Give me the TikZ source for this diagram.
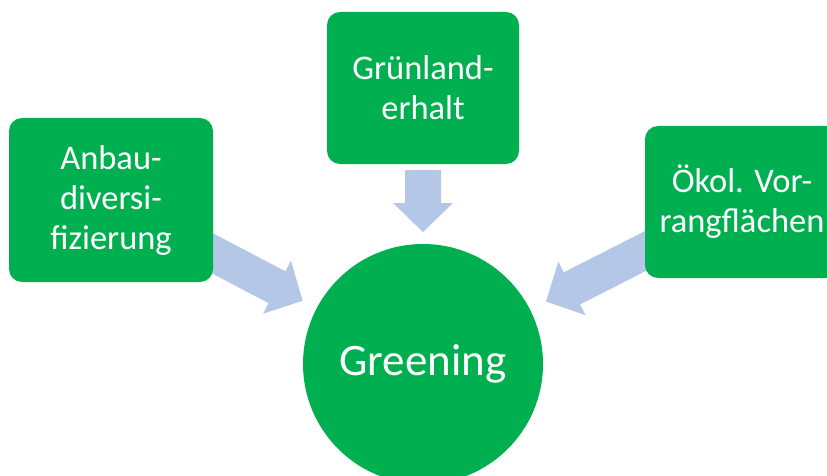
\documentclass[tikz,border=0pt]{standalone}
\usepackage{fontspec}
\setmainfont{Carlito}
\usetikzlibrary{calc}
\definecolor{boxgreen}{HTML}{00B050}
\definecolor{arrowblue}{HTML}{B4C7E7}
\tikzset{
  greenbox/.style={fill=boxgreen, draw=none, rounded corners=13pt, text=white,
    align=center, inner sep=0pt, font=\fontsize{34.5}{40}\selectfont},
  greencircle/.style={circle, fill=boxgreen, draw=none, text=white, inner sep=0pt,
    minimum size=240pt, font=\fontsize{45}{50}\selectfont},
  arrowfill/.style={fill=arrowblue, draw=none}
}
\newcommand{\myarrow}[2]{%
  \coordinate (H) at ($(#2)!29pt!(#1)$);
  \fill[arrowfill]
    ($(#1)!18pt!90:(#2)$) -- ($(H)!18pt!90:(#2)$)
    -- ($(H)!30pt!90:(#2)$) -- (#2) -- ($(H)!30pt!-90:(#2)$)
    -- ($(H)!18pt!-90:(#2)$) -- ($(#1)!18pt!-90:(#2)$) -- cycle;}
\begin{document}
\begin{tikzpicture}[x=1pt,y=-1pt]
\useasboundingbox (0,0) rectangle (827,476);
\clip (0,0) rectangle (827,476);
% geometry
\coordinate (Lc) at (111,200);
\coordinate (Tc) at (423,88);
\coordinate (Rc) at (742,202);
\coordinate (Gc) at (423,364);
% arrows (behind)
\coordinate (Ltip) at ($(Gc)!136pt!(Lc)$);
\coordinate (Rtip) at ($(Gc)!138pt!(Rc)$);
\coordinate (Ttip) at ($(Gc)!132pt!(Tc)$);
\coordinate (Tstart) at (423,170);
\myarrow{Lc}{Ltip}
\myarrow{Rc}{Rtip}
\myarrow{Tstart}{Ttip}
% boxes
\node[greenbox, minimum width=204pt, minimum height=164pt] (L) at (Lc) {Anbau-\\diversi-\\fizierung};
\node[greenbox, minimum width=192pt, minimum height=152pt] (T) at (Tc) {Grünland-\\erhalt};
\node[greenbox, minimum width=194pt, minimum height=152pt] (R) at (Rc) {Ökol. Vor-\\rangflächen};
\node[greencircle] (G) at (Gc) {Greening};
\end{tikzpicture}
\end{document}
